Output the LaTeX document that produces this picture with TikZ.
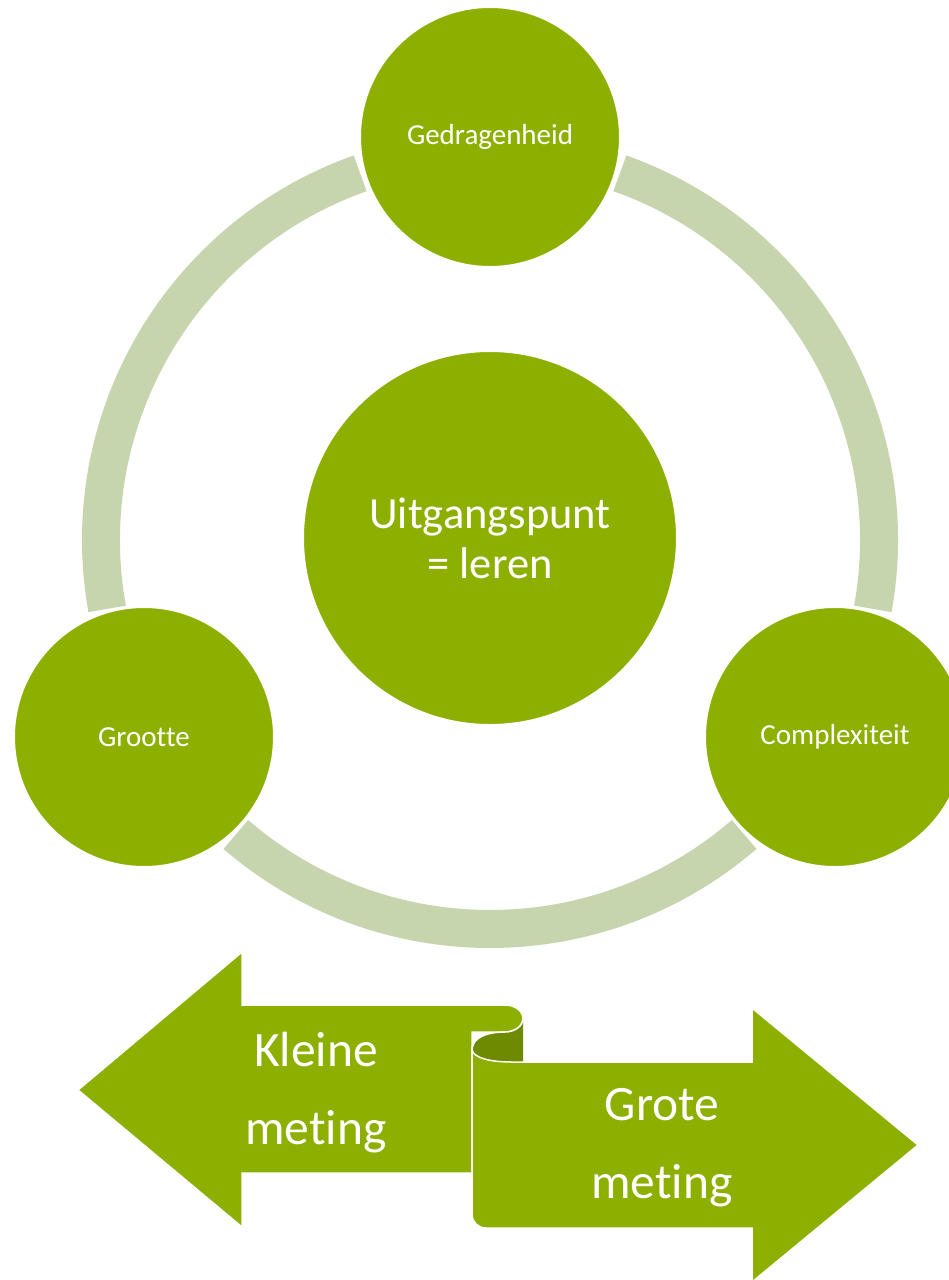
\documentclass[tikz,border=0pt]{standalone}
\usepackage{fontspec}
\setmainfont{Carlito}[Ligatures=NoCommon]
\usepackage{tikz}
\usetikzlibrary{calc,shapes.geometric}
\definecolor{leaf}{RGB}{140,175,0}
\definecolor{leafdark}{RGB}{110,138,0}
\definecolor{sage}{RGB}{198,213,174}
\tikzstyle{hub} = [circle, fill=leaf, draw=white, line width=2pt, text=white, text centered, inner sep=0pt, minimum size=374pt, align=center, font=\fontsize{44.5}{50}\selectfont]
\tikzstyle{bubble} = [circle, fill=leaf, draw=white, line width=2pt, text=white, text centered, inner sep=0pt, minimum size=260pt, font=\fontsize{29}{35}\selectfont]
\tikzstyle{ring} = [draw=sage, line width=38pt]
\tikzstyle{bigarrow} = [fill=leaf, draw=white, line width=1.5pt]
\tikzstyle{arrowtext} = [text=white, align=center, font=\fontsize{49.5}{78}\selectfont]

\begin{document}
\begin{tikzpicture}[x=1pt, y=-1pt]
        \useasboundingbox (0,0) rectangle (949,1280);
        \clip (0,0) rectangle (949,1280);
        \coordinate (ringc) at (490,540);
        \draw [ring] (ringc) ++(-109.5:389) arc [start angle=-109.5, end angle=-190.2, radius=389];
        \draw [ring] (ringc) ++(-229.2:389) arc [start angle=-229.2, end angle=-310.8, radius=389];
        \draw [ring] (ringc) ++(10.2:389) arc [start angle=10.2, end angle=-70.5, radius=389];
        \node (start) [hub] at (490,538) {Uitgangspunt\\= leren};
        \node (gedragen) [bubble] at (490,137) {Gedragenheid};
        \node (grootte) [bubble] at (144,737) {Grootte};
        \node (complex) [bubble] at (835,737) {Complexiteit};
        \draw [bigarrow] (78,1090) -- (242,952) -- (242,1005) -- (505,1005)
            arc [start angle=-90, end angle=90, x radius=18, y radius=13.5]
            -- (472,1032) -- (472,1173) -- (242,1173) -- (242,1227) -- cycle;
        \fill [leafdark] (472,1062) -- (472,1050) .. controls (472,1038) and (486,1032) .. (505,1032)
            arc [start angle=90, end angle=0, x radius=18, y radius=13.5] -- (523,1062) -- cycle;
        \draw [white, line width=1.5pt] (472,1050) .. controls (472,1038) and (486,1032) .. (505,1032)
            arc [start angle=90, end angle=0, x radius=18, y radius=13.5];
        \draw [bigarrow] (472,1050) .. controls (474,1058) and (490,1062) .. (512,1062) -- (752,1062)
            -- (752,1008) -- (918,1145) -- (752,1282) -- (752,1228) -- (486,1228)
            .. controls (478,1228) and (472,1222) .. (472,1214) -- cycle;
        \node (klein) [arrowtext] at (316,1093) {Kleine\\meting};
        \node (groot) [arrowtext] at (662,1148) {Grote\\meting};
    \end{tikzpicture}
\end{document}
